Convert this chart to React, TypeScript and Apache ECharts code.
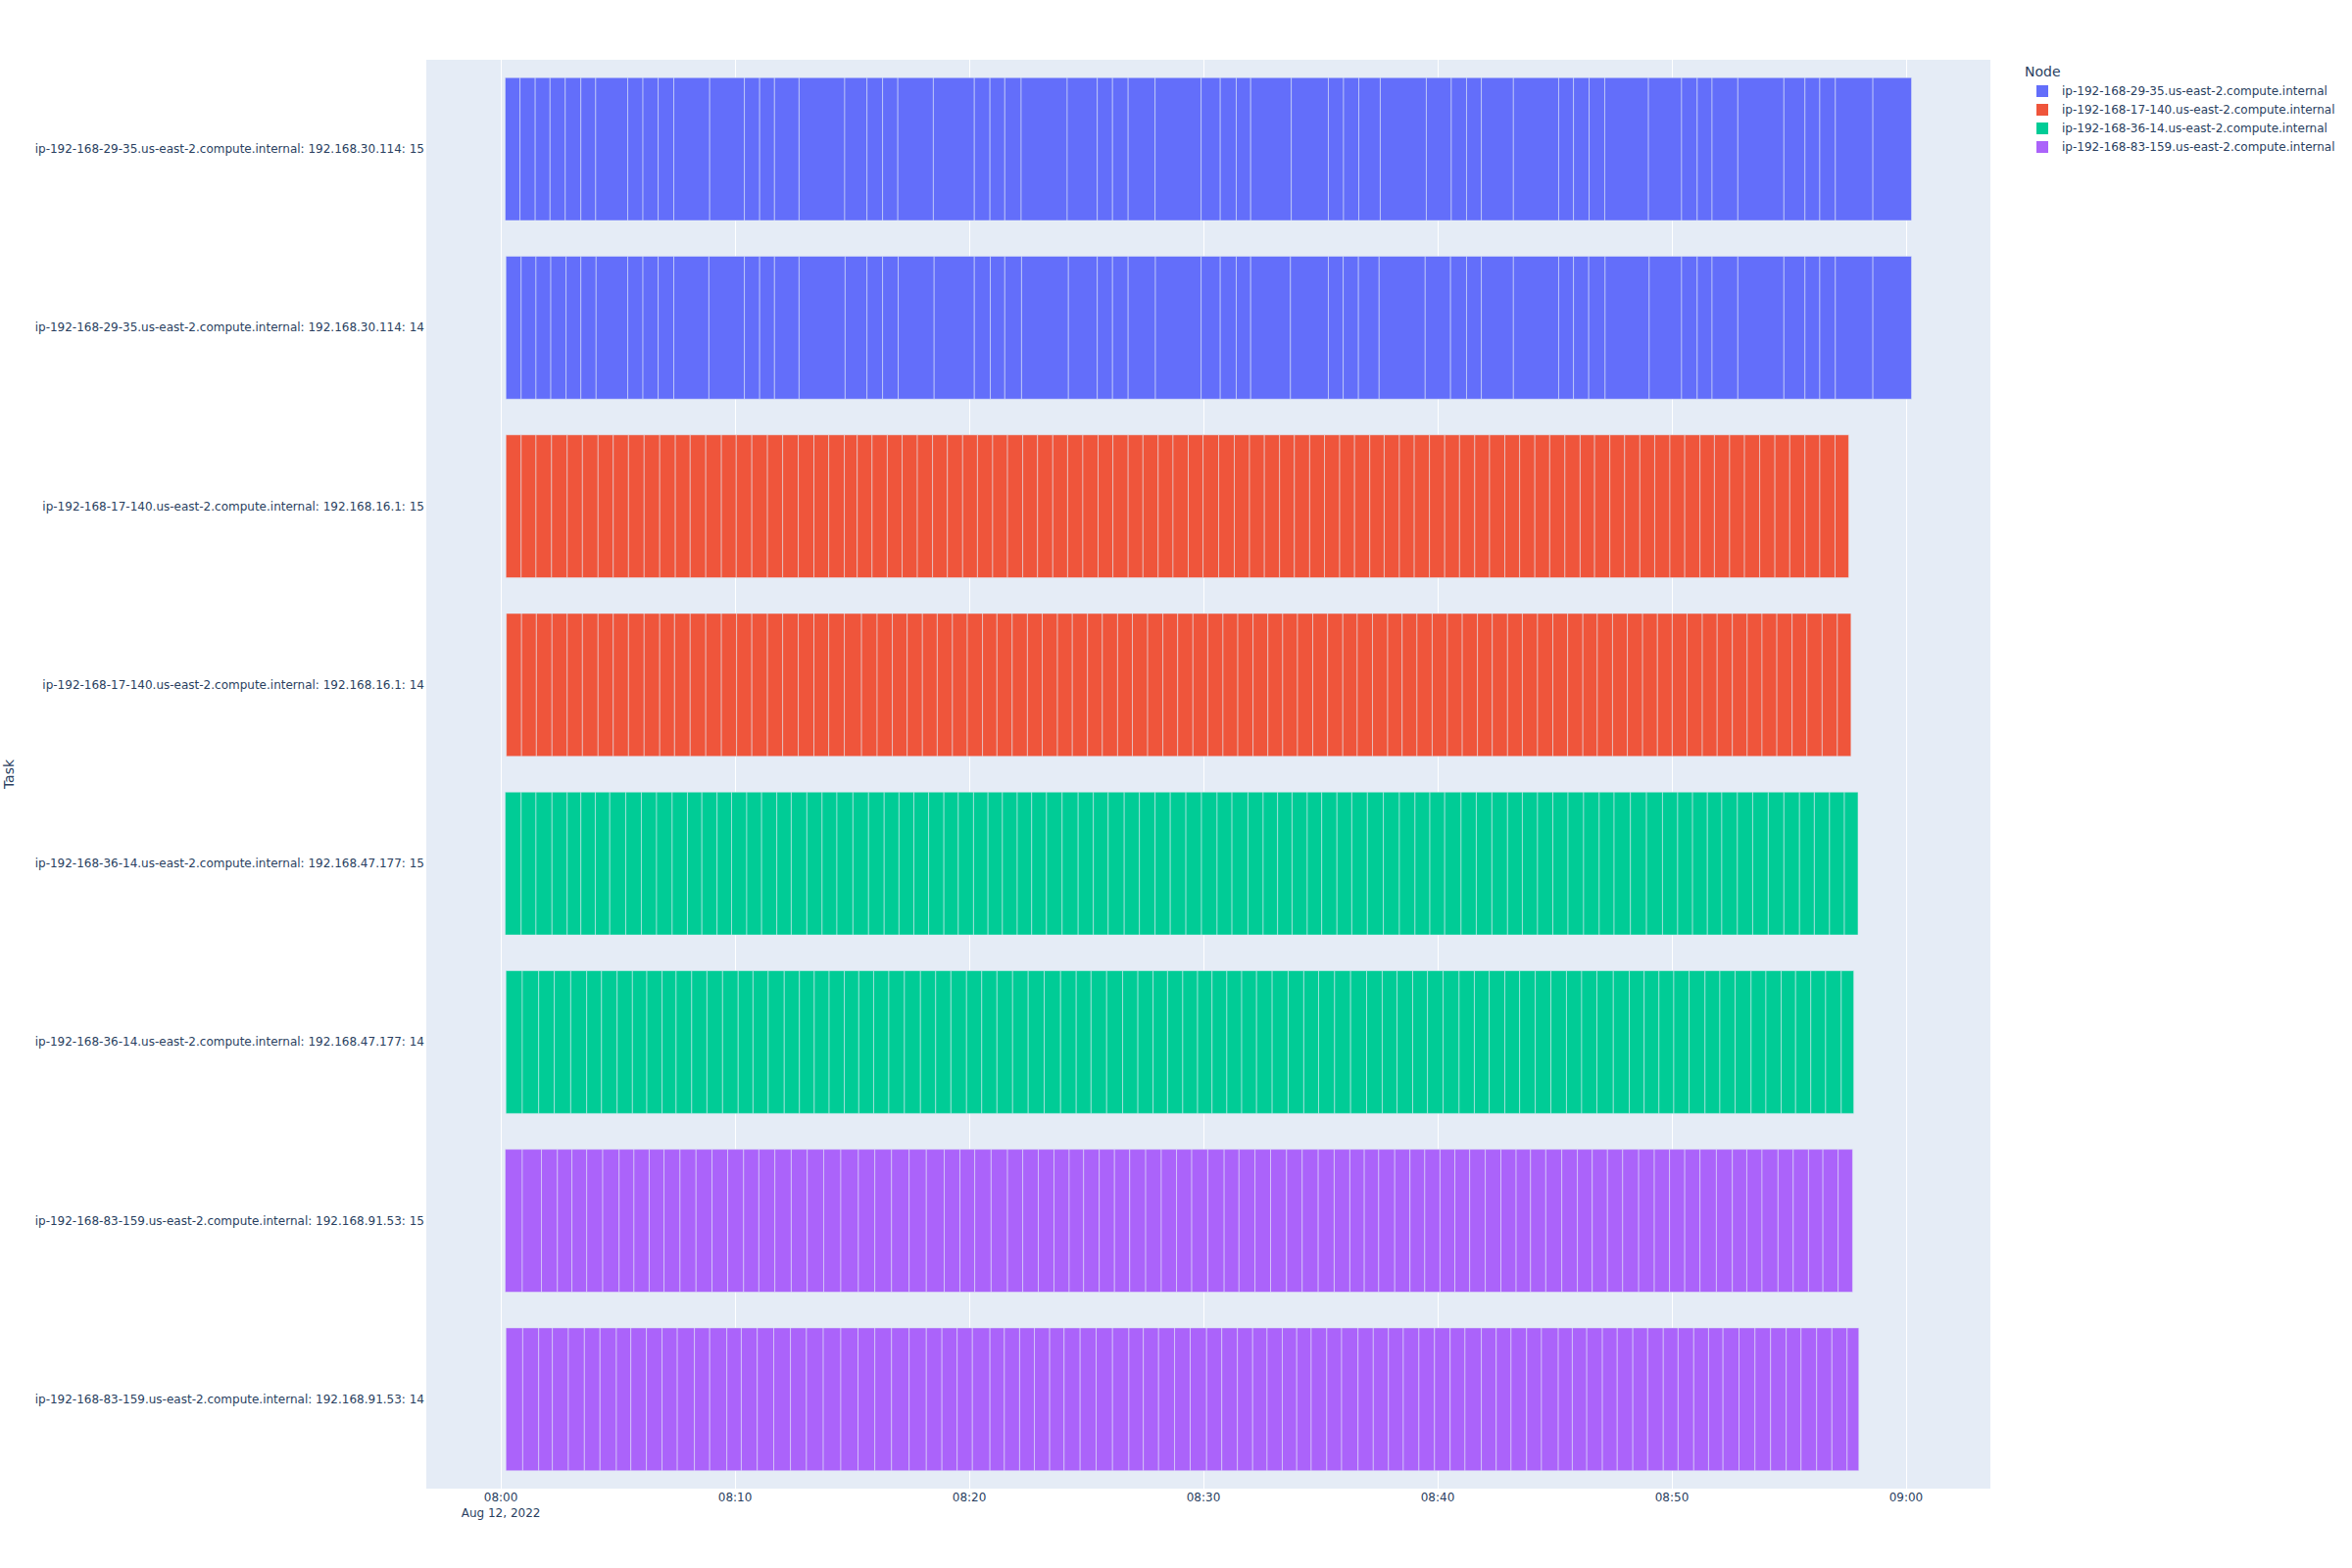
import React, { useEffect, useRef } from "react";
import * as echarts from "echarts";

const FONT = '"DejaVu Sans", Verdana, sans-serif';
const TEXT_COLOR = "#2a3f5f";

// Categories, top to bottom
const CATEGORIES = [
  "ip-192-168-29-35.us-east-2.compute.internal: 192.168.30.114: 15",
  "ip-192-168-29-35.us-east-2.compute.internal: 192.168.30.114: 14",
  "ip-192-168-17-140.us-east-2.compute.internal: 192.168.16.1: 15",
  "ip-192-168-17-140.us-east-2.compute.internal: 192.168.16.1: 14",
  "ip-192-168-36-14.us-east-2.compute.internal: 192.168.47.177: 15",
  "ip-192-168-36-14.us-east-2.compute.internal: 192.168.47.177: 14",
  "ip-192-168-83-159.us-east-2.compute.internal: 192.168.91.53: 15",
  "ip-192-168-83-159.us-east-2.compute.internal: 192.168.91.53: 14",
];

const NODES = [
  "ip-192-168-29-35.us-east-2.compute.internal",
  "ip-192-168-17-140.us-east-2.compute.internal",
  "ip-192-168-36-14.us-east-2.compute.internal",
  "ip-192-168-83-159.us-east-2.compute.internal",
];
const NODE_COLORS = ["#636EFA", "#EF553B", "#00CC96", "#AB63FA"];
const ROW_NODE = [0, 0, 1, 1, 2, 2, 3, 3];

// Task boundaries: seconds after 2022-08-12 08:00:00 (start of each task, last = end of last task)
const tasks_29_35_15 = [11,49,88,126,165,205,243,325,364,403,443,535,624,663,701,764,881,938,978,1017,1108,1213,1253,1291,1333,1451,1528,1567,1607,1676,1794,1843,1884,1921,2025,2120,2159,2198,2253,2371,2435,2474,2512,2594,2710,2748,2788,2828,2940,3025,3065,3103,3169,3287,3341,3379,3419,3515,3614];
const tasks_29_35_14 = [13,52,90,128,167,205,244,325,364,403,443,533,624,663,701,764,882,938,978,1018,1110,1213,1254,1291,1334,1454,1528,1567,1607,1677,1794,1843,1884,1921,2023,2120,2158,2197,2250,2368,2433,2474,2512,2594,2710,2748,2787,2829,2942,3025,3065,3103,3169,3287,3341,3379,3419,3515,3614];
const tasks_17_140_15 = [13,52,90,130,170,209,249,288,327,367,407,447,485,525,565,603,643,683,722,762,802,840,880,913,951,990,1028,1067,1106,1144,1183,1221,1260,1298,1337,1375,1414,1452,1491,1530,1568,1607,1645,1684,1722,1761,1799,1839,1879,1918,1956,1995,2033,2072,2110,2149,2187,2226,2263,2302,2340,2379,2418,2456,2495,2533,2572,2610,2649,2687,2726,2765,2802,2841,2879,2918,2956,2995,3033,3072,3109,3148,3186,3225,3264,3302,3341,3379,3418,3453];
const tasks_17_140_14 = [14,53,91,131,170,209,249,288,327,367,407,445,485,525,565,604,643,683,722,762,802,840,880,924,964,1003,1041,1080,1118,1157,1195,1234,1271,1310,1349,1387,1426,1464,1503,1541,1580,1618,1657,1696,1734,1773,1811,1850,1888,1927,1965,2003,2041,2080,2118,2157,2194,2233,2272,2309,2347,2386,2425,2463,2502,2540,2579,2617,2656,2695,2733,2772,2809,2848,2886,2925,2963,3001,3039,3078,3116,3155,3193,3231,3269,3308,3346,3385,3424,3459];
const tasks_36_14_15 = [11,52,90,131,170,205,242,279,320,360,399,439,478,515,554,591,630,668,707,744,784,823,861,902,942,982,1020,1058,1096,1135,1172,1211,1248,1285,1323,1360,1398,1438,1479,1518,1556,1597,1636,1676,1715,1755,1795,1835,1873,1914,1953,1990,2027,2066,2103,2142,2180,2220,2261,2302,2342,2380,2418,2460,2499,2539,2579,2617,2656,2695,2734,2774,2814,2852,2894,2935,2976,3015,3053,3091,3128,3168,3207,3247,3287,3327,3365,3404,3442,3477];
const tasks_36_14_14 = [13,55,97,137,179,220,258,298,337,374,413,449,489,528,568,608,646,685,726,765,803,841,880,917,955,994,1034,1075,1114,1153,1193,1232,1271,1311,1351,1392,1434,1474,1512,1552,1593,1632,1671,1708,1747,1785,1822,1860,1898,1936,1976,2017,2057,2095,2136,2177,2218,2258,2296,2336,2374,2414,2455,2494,2532,2572,2610,2650,2690,2730,2769,2808,2850,2891,2929,2967,3005,3044,3085,3123,3162,3203,3241,3280,3317,3356,3394,3434,3466];
const tasks_83_159_15 = [11,55,104,145,182,220,261,303,341,380,418,459,500,541,581,622,661,702,744,785,827,871,916,958,1001,1046,1090,1136,1176,1214,1256,1298,1337,1377,1417,1456,1493,1533,1572,1611,1652,1692,1731,1770,1811,1853,1891,1932,1972,2013,2053,2094,2135,2175,2212,2249,2290,2329,2367,2406,2444,2482,2522,2562,2601,2638,2677,2718,2758,2796,2835,2874,2915,2955,2994,3033,3072,3114,3155,3192,3231,3272,3311,3350,3387,3426,3463];
const tasks_83_159_14 = [13,56,97,132,173,214,254,296,333,373,413,452,496,535,579,616,657,699,742,783,826,871,915,958,1001,1046,1090,1130,1169,1208,1253,1290,1329,1367,1406,1443,1484,1525,1567,1609,1646,1685,1726,1766,1808,1847,1887,1926,1963,2002,2039,2076,2116,2154,2196,2235,2274,2312,2352,2392,2432,2470,2512,2550,2588,2628,2666,2709,2745,2782,2822,2860,2900,2938,2978,3016,3056,3094,3131,3172,3213,3253,3293,3331,3371,3410,3449,3479];

const ROW_TASKS = [
  tasks_29_35_15,
  tasks_29_35_14,
  tasks_17_140_15,
  tasks_17_140_14,
  tasks_36_14_15,
  tasks_36_14_14,
  tasks_83_159_15,
  tasks_83_159_14,
];

const TICK_VALUES = [0, 600, 1200, 1800, 2400, 3000, 3600];
const TICK_LABELS = ["08:00", "08:10", "08:20", "08:30", "08:40", "08:50", "09:00"];
const DATE_LABEL = "Aug 12, 2022";
const X_MIN = -191;
const X_MAX = 3816;

export default function App() {
  const ref = useRef<HTMLDivElement>(null);

  useEffect(() => {
    if (!ref.current) return;
    const chart = echarts.init(ref.current, undefined, { renderer: "svg" });

    const series = NODES.map((node, n) => {
      const data: number[][] = [];
      ROW_TASKS.forEach((b, row) => {
        if (ROW_NODE[row] !== n) return;
        for (let i = 0; i < b.length - 1; i++) data.push([row, b[i], b[i + 1]]);
      });
      return {
        type: "custom",
        name: node,
        itemStyle: { color: NODE_COLORS[n] },
        encode: { x: [1, 2], y: 0 },
        renderItem: (params: any, api: any) => {
          const cat = api.value(0);
          const p0 = api.coord([api.value(1), cat]);
          const p1 = api.coord([api.value(2), cat]);
          const h = api.size([0, 1])[1] * 0.8;
          return {
            type: "rect",
            shape: { x: p0[0], y: p0[1] - h / 2, width: p1[0] - p0[0], height: h },
            style: { fill: api.visual("color"), stroke: "#E5ECF6", lineWidth: 0.5 },
          };
        },
        data,
        z: 2,
      };
    });

    chart.setOption({
      animation: false,
      backgroundColor: "#ffffff",
      textStyle: { fontFamily: FONT },
      grid: {
        left: 435,
        right: 369,
        top: 61,
        bottom: 81,
        show: true,
        backgroundColor: "#E5ECF6",
        borderWidth: 0,
        containLabel: false,
      },
      xAxis: {
        type: "value",
        min: X_MIN,
        max: X_MAX,
        axisLine: { show: false },
        axisTick: { show: false, customValues: TICK_VALUES },
        splitLine: { show: true, lineStyle: { color: "#ffffff", width: 1 } },
        axisLabel: {
          customValues: TICK_VALUES,
          margin: 1,
          fontSize: 12,
          lineHeight: 16,
          color: TEXT_COLOR,
          fontFamily: FONT,
          formatter: (v: number) => {
            const i = TICK_VALUES.indexOf(Math.round(v));
            const t = i >= 0 ? TICK_LABELS[i] : "";
            return i === 0 ? t + "\n" + DATE_LABEL : t;
          },
        },
      },
      yAxis: {
        type: "category",
        data: CATEGORIES,
        inverse: true,
        axisLine: { show: false },
        axisTick: { show: false },
        splitLine: { show: false },
        axisLabel: { margin: 2, fontSize: 12, color: TEXT_COLOR, fontFamily: FONT },
      },
      legend: {
        orient: "vertical",
        left: 2078,
        top: 87,
        padding: 0,
        itemWidth: 12,
        itemHeight: 12,
        itemGap: 7,
        icon: "rect",
        data: NODES,
        textStyle: {
          fontSize: 12,
          color: TEXT_COLOR,
          fontFamily: FONT,
          lineHeight: 12,
          padding: [0, 0, 0, 9],
        },
      },
      graphic: [
        {
          type: "text",
          left: 2066,
          top: 66,
          style: { text: "Node", fill: TEXT_COLOR, font: `14px ${FONT}` },
        },
        {
          type: "text",
          x: 9,
          y: 790,
          rotation: Math.PI / 2,
          style: {
            text: "Task",
            fill: TEXT_COLOR,
            font: `14px ${FONT}`,
            align: "center",
            verticalAlign: "middle",
          },
        },
      ],
      series,
    });

    return () => chart.dispose();
  }, []);

  return (
    <div
      ref={ref}
      style={{ position: "absolute", left: 0, top: 0, width: 2400, height: 1600 }}
    />
  );
}
